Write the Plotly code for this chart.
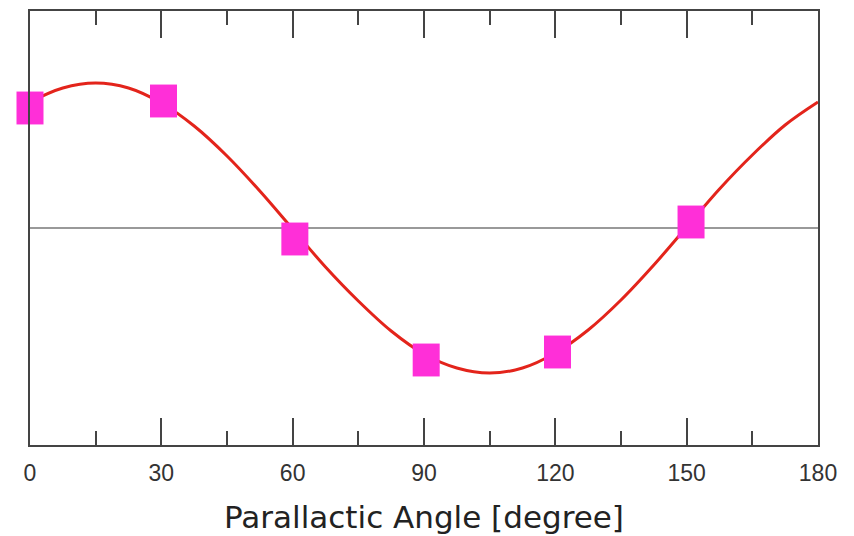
import plotly.graph_objects as go

# Fitted curve (degrees, arbitrary units)
curve_angle = [0, 7.5, 15, 22.5, 30, 37.5, 45, 52.5, 60, 67.5, 75, 82.5, 90,
               97.5, 105, 112.5, 120, 127.5, 135, 142.5, 150, 157.5, 165, 172.5, 180]
curve_value = [1.26, 1.40, 1.45, 1.40, 1.25, 1.02, 0.72, 0.37, -0.01, -0.39, -0.73, -1.03, -1.26,
               -1.40, -1.45, -1.40, -1.25, -1.02, -0.72, -0.37, 0.01, 0.39, 0.73, 1.03, 1.26]

# Measured points
point_angle = [0, 30.5, 60.5, 90.5, 120.5, 151]
point_value = [1.20, 1.27, -0.11, -1.32, -1.24, 0.06]

x_ticks = [0, 30, 60, 90, 120, 150, 180]

fig = go.Figure()
fig.add_trace(go.Scatter(
    x=curve_angle, y=curve_value, mode="lines",
    line=dict(color="#E3241B", width=3, shape="spline"),
    hoverinfo="skip", showlegend=False, cliponaxis=False))
fig.add_trace(go.Scatter(
    x=point_angle, y=point_value, mode="markers",
    marker=dict(symbol="line-ns", size=23.5, color="#FF2FD8",
                line=dict(width=27, color="#FF2FD8")),
    showlegend=False, cliponaxis=False))

fig.update_layout(
    width=854, height=536,
    margin=dict(l=30, r=36, t=11, b=91),
    paper_bgcolor="white", plot_bgcolor="white",
    font=dict(family="DejaVu Sans", color="#222"),
    xaxis=dict(
        range=[0, 180], tickvals=x_ticks, ticktext=[str(v) for v in x_ticks],
        ticks="inside", ticklen=27, tickwidth=2, tickcolor="#444",
        minor=dict(dtick=15, tick0=0, ticks="inside", ticklen=14, tickwidth=2, tickcolor="#444"),
        showline=True, linecolor="#444", linewidth=2, mirror="ticks",
        showgrid=False, zeroline=False, automargin=False,
        tickfont=dict(family="Liberation Sans", size=23, color="#333"),
        ticklabelstandoff=6,
        title=dict(text="Parallactic Angle [degree]", standoff=22,
                   font=dict(family="DejaVu Sans", size=31, color="#222")),
    ),
    yaxis=dict(
        range=[-2.17, 2.17], showticklabels=False, ticks="",
        showline=True, linecolor="#444", linewidth=2, mirror=True,
        showgrid=False, zeroline=True, zerolinecolor="#999", zerolinewidth=2,
    ),
)

fig.write_html("out.html")
